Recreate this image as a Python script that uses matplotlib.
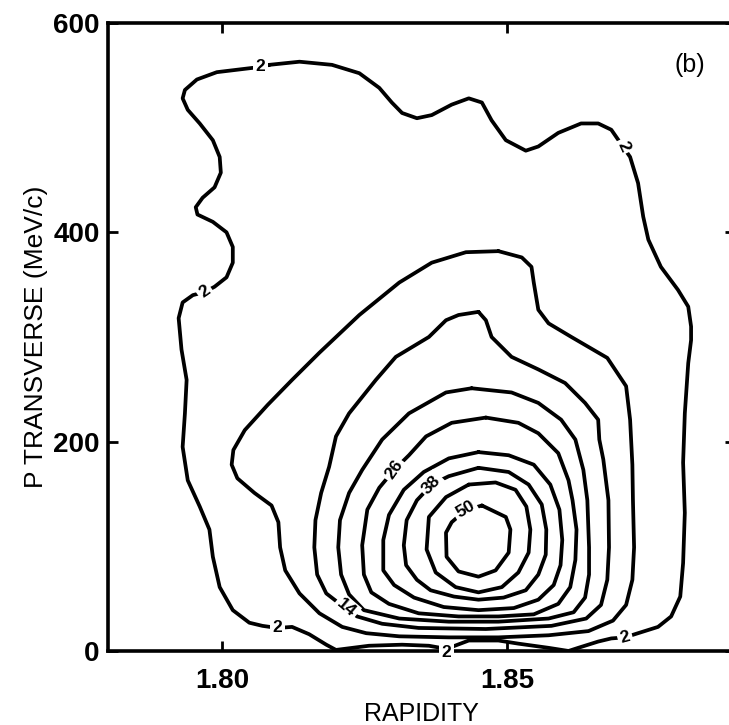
import matplotlib
matplotlib.use("Agg")
import matplotlib.pyplot as plt

plt.rcParams['font.family'] = ['Liberation Sans', 'DejaVu Sans']

# contour lines of the yield, traced as (rapidity, p_T) per level
levels = [2, 8, 14, 20, 26, 32, 38, 44, 50]

rap_2 = [1.8083, 1.8136, 1.8193, 1.8241, 1.8276, 1.8298, 1.8316, 1.8342, 1.8368, 1.8403,
         1.8433, 1.8456, 1.8473, 1.8498, 1.8533, 1.8555, 1.8590, 1.8630, 1.8660, 1.8683,
         1.8716, 1.8730, 1.8739, 1.8748, 1.8770, 1.8800, 1.8818, 1.8823, 1.8823, 1.8818,
         1.8812, 1.8809, 1.8812, 1.8809, 1.8804, 1.8788, 1.8765, 1.8730, 1.8707, 1.8683,
         1.8660, 1.8625, 1.8608, 1.8573, 1.8520, 1.8485, 1.8433, 1.8394, 1.8363, 1.8316,
         1.8258, 1.8200, 1.8183, 1.8153, 1.8123, 1.8097, 1.8071, 1.8048, 1.8019, 1.7996,
         1.7984, 1.7978, 1.7961, 1.7940, 1.7931, 1.7935, 1.7938, 1.7929, 1.7924, 1.7931,
         1.7949, 1.7970, 1.7987, 1.8008, 1.8019, 1.8019, 1.8008, 1.7984, 1.7957, 1.7954,
         1.7966, 1.7987, 1.7998, 1.7996, 1.7984, 1.7961, 1.7940, 1.7931, 1.7935, 1.7956,
         1.7991, 1.8052, 1.8070, 1.8083]
pt_2 = [560, 563, 560, 552, 538, 524, 514, 509, 512, 522,
        528, 524, 507, 488, 478, 482, 495, 504, 504, 498,
        472, 447, 415, 393, 367, 345, 329, 310, 297, 275,
        227, 180, 132, 84, 52, 33, 23, 17, 13, 12,
        9, 3, 0, 3, 7, 10, 10, 2, 5, 6,
        5, 1, 6, 16, 23, 22, 24, 27, 39, 61,
        90, 116, 138, 163, 195, 227, 259, 288, 318, 333,
        340, 343, 348, 357, 371, 386, 400, 410, 417, 424,
        433, 443, 457, 472, 488, 504, 517, 528, 536, 546,
        553, 557, 558, 560]

rap_8 = [1.8485, 1.8428, 1.8368, 1.8311, 1.8241, 1.8171, 1.8123, 1.8080, 1.8040, 1.8020,
         1.8017, 1.8027, 1.8057, 1.8087, 1.8099, 1.8102, 1.8111, 1.8136, 1.8171, 1.8211,
         1.8253, 1.8311, 1.8398, 1.8485, 1.8573, 1.8643, 1.8686, 1.8709, 1.8720, 1.8723,
         1.8721, 1.8720, 1.8716, 1.8709, 1.8676, 1.8613, 1.8573, 1.8555, 1.8547, 1.8543,
         1.8526, 1.8485]
pt_8 = [382, 381, 371, 352, 321, 285, 259, 235, 211, 192,
        178, 165, 151, 139, 123, 99, 77, 55, 36, 23,
        17, 14, 13, 13, 15, 19, 29, 44, 68, 99,
        144, 178, 221, 253, 280, 300, 313, 326, 352, 367,
        376, 382]

rap_14 = [1.8450, 1.8415, 1.8393, 1.8363, 1.8305, 1.8270, 1.8223, 1.8200, 1.8188, 1.8174,
          1.8164, 1.8162, 1.8167, 1.8183, 1.8202, 1.8218, 1.8237, 1.8281, 1.8345, 1.8463,
          1.8578, 1.8639, 1.8665, 1.8676, 1.8679, 1.8678, 1.8669, 1.8662, 1.8660, 1.8637,
          1.8602, 1.8555, 1.8508, 1.8473, 1.8463, 1.8450]
pt_14 = [324, 321, 316, 300, 281, 259, 227, 205, 176, 151,
         125, 99, 73, 55, 47, 41, 33, 26, 22, 21,
         24, 31, 44, 68, 99, 144, 183, 202, 221, 237,
         256, 269, 281, 300, 316, 324]

rap_20 = [1.8438, 1.8393, 1.8328, 1.8281, 1.8246, 1.8223, 1.8207, 1.8204, 1.8209, 1.8223,
          1.8249, 1.8311, 1.8398, 1.8485, 1.8573, 1.8617, 1.8637, 1.8644, 1.8644, 1.8641,
          1.8634, 1.8620, 1.8595, 1.8555, 1.8508, 1.8438]
pt_20 = [251, 247, 227, 202, 173, 151, 125, 99, 73, 54,
         39, 31, 28, 28, 31, 37, 51, 73, 99, 144,
         173, 202, 221, 237, 247, 251]

rap_26 = [1.8463, 1.8403, 1.8358, 1.8328, 1.8302, 1.8276, 1.8255, 1.8246, 1.8249, 1.8262,
          1.8293, 1.8345, 1.8415, 1.8485, 1.8547, 1.8590, 1.8611, 1.8620, 1.8622, 1.8615,
          1.8608, 1.8590, 1.8555, 1.8520, 1.8463]
pt_26 = [223, 218, 205, 187, 173, 156, 135, 101, 73, 56,
         45, 36, 33, 33, 35, 45, 61, 87, 116, 144,
         163, 189, 208, 218, 223]

rap_32 = [1.8450, 1.8398, 1.8354, 1.8319, 1.8293, 1.8283, 1.8283, 1.8302, 1.8337, 1.8389,
          1.8450, 1.8512, 1.8555, 1.8582, 1.8594, 1.8597, 1.8592, 1.8576, 1.8547, 1.8503,
          1.8450]
pt_32 = [190, 184, 171, 154, 130, 106, 77, 63, 51, 42,
         39, 41, 49, 63, 82, 106, 135, 159, 178, 187,
         190]

rap_38 = [1.8450, 1.8398, 1.8368, 1.8342, 1.8324, 1.8319, 1.8323, 1.8342, 1.8366, 1.8407,
          1.8450, 1.8494, 1.8533, 1.8555, 1.8568, 1.8569, 1.8561, 1.8538, 1.8503, 1.8450]
pt_38 = [175, 167, 159, 144, 125, 101, 82, 68, 58, 52,
         49, 51, 58, 73, 92, 116, 140, 159, 171, 175]

rap_44 = [1.8433, 1.8480, 1.8515, 1.8534, 1.8541, 1.8538, 1.8520, 1.8491, 1.8450, 1.8410,
          1.8375, 1.8359, 1.8363, 1.8393, 1.8433]
pt_44 = [159, 161, 154, 138, 116, 94, 75, 61, 56, 61,
         75, 97, 128, 147, 159]

rap_50 = [1.8456, 1.8498, 1.8506, 1.8503, 1.8480, 1.8450, 1.8415, 1.8394, 1.8393, 1.8403,
          1.8426, 1.8456]
pt_50 = [139, 128, 116, 94, 77, 71, 76, 90, 113, 123,
         134, 139]

# where each level number is written on its line
label_level = [2, 2, 2, 2, 2, 2, 14, 26, 38, 50]
label_rap = [1.8068, 1.7970, 1.8704, 1.8097, 1.8707, 1.8394, 1.8218, 1.8302, 1.8368, 1.8427]
label_pt = [558, 343, 482, 22, 13, -1, 41, 173, 159, 135]

x_ticks = [1.80, 1.85]
x_tick_labels = ['1.80', '1.85']
y_ticks = [0, 200, 400, 600]

lines = [(rap_2, pt_2), (rap_8, pt_8), (rap_14, pt_14), (rap_20, pt_20), (rap_26, pt_26),
         (rap_32, pt_32), (rap_38, pt_38), (rap_44, pt_44), (rap_50, pt_50)]
label_angle = [0, 35, -65, 0, 15, 0, -40, 55, 45, 30]

fig = plt.figure(figsize=(7.29, 7.25), dpi=100)
ax = fig.add_axes([0.1481, 0.1021, 0.8601, 0.8662])

for lev, (rap, pt) in zip(levels, lines):
    ax.plot(rap, pt, color='black', lw=2.7, solid_joinstyle='round', solid_capstyle='round')

for lev, x, y, ang in zip(label_level, label_rap, label_pt, label_angle):
    ax.text(x, y, str(lev), rotation=ang, rotation_mode='anchor', ha='center', va='center',
            fontsize=12.5, fontweight='bold', zorder=5, clip_on=False,
            bbox=dict(boxstyle='square,pad=0.15', fc='white', ec='none'))

ax.set_xlim(1.78, 1.89)
ax.set_ylim(0, 600)
ax.set_xticks(x_ticks)
ax.set_xticklabels(x_tick_labels, fontweight='bold')
ax.set_yticks(y_ticks)
ax.set_yticklabels([str(v) for v in y_ticks], fontweight='bold')
ax.tick_params(direction='in', top=True, right=True, length=7, width=2, labelsize=20)
ax.tick_params(axis='x', pad=12)
ax.tick_params(axis='y', pad=6)
for sp in ax.spines.values():
    sp.set_linewidth(2.6)

ax.set_xlabel('RAPIDITY', fontsize=18, labelpad=6)
ax.set_ylabel('P TRANSVERSE (MeV/c)', fontsize=19, labelpad=4)
ax.text(0.928, 0.933, '(b)', transform=ax.transAxes, fontsize=18, ha='center', va='center')

fig.savefig('out.png', dpi=100)
